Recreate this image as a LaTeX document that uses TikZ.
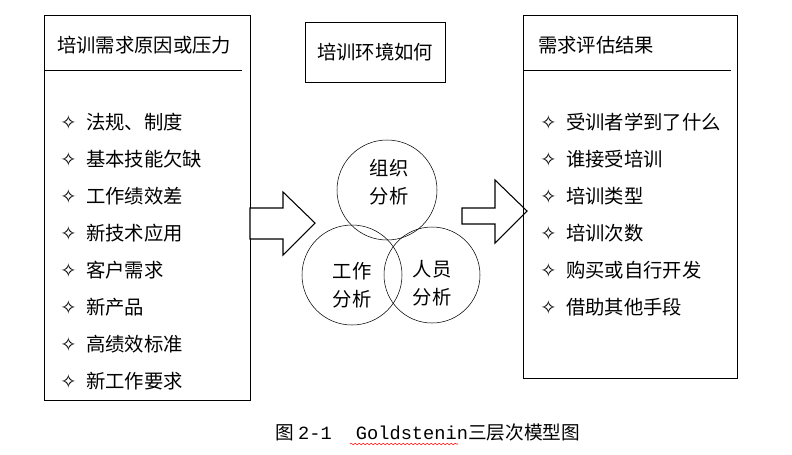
\documentclass[tikz,border=0pt]{standalone}
\usepackage{fontspec}
\setmainfont{Noto Sans CJK SC}
\newfontfamily\symfont{DejaVu Sans}
\newfontfamily\monofont{Liberation Mono}
\usetikzlibrary{positioning,decorations.pathmorphing}

\newcommand{\itemmark}{{\symfont\char"2727}}

\begin{document}
\begin{tikzpicture}[x=0.75pt,y=-0.75pt,
  listtxt/.style={anchor=west, font=\fontsize{14.5}{17}\selectfont, inner sep=0pt},
  headtxt/.style={anchor=west, font=\fontsize{14.5}{17}\selectfont, inner sep=0pt},
  ringtxt/.style={align=center, font=\fontsize{14.5}{17}\selectfont, inner sep=0pt},
  blockarrow/.style={draw=black, fill=white, line width=0.8pt},
]
\useasboundingbox (0,0) rectangle (792,454);

% ─── Left box ───
\draw (44,15) rectangle (250,400);
\draw (44,70) -- (242,70);
\node[headtxt] (lhead) at (57,45) {培训需求原因或压力};
\foreach \t [count=\i] in {法规、制度,基本技能欠缺,工作绩效差,新技术应用,客户需求,新产品,高绩效标准,新工作要求} {
  \node[listtxt] (l\i) at (60,122+37*\i-37) {\itemmark\hspace{0.5em}\t};
}

% ─── Middle ───
\draw (305,22) rectangle (445,82);
\node[headtxt, anchor=center] (env) at (375,52) {培训环境如何};
\draw (387,190) circle (50);
\draw (352,275) circle (50);
\draw (432,275) circle (48);
\node[ringtxt] (org) at (389,182) {组织\\[4pt]分析};
\node[ringtxt] (job) at (352,285) {工作\\[4pt]分析};
\node[ringtxt] (per) at (432,283) {人员\\[4pt]分析};

% Block arrows
\draw[blockarrow] (250,208) -- (283,208) -- (283,192) -- (315,223) -- (283,255) -- (283,239) -- (250,239) -- cycle;
\draw[blockarrow] (462,208) -- (495,208) -- (495,180) -- (527,211) -- (495,243) -- (495,224) -- (462,224) -- cycle;

% ─── Right box ───
\draw (523,15) rectangle (737,378);
\draw (523,70) -- (731,70);
\node[headtxt] (rhead) at (538,45) {需求评估结果};
\foreach \t [count=\i] in {受训者学到了什么,谁接受培训,培训类型,培训次数,购买或自行开发,借助其他手段} {
  \node[listtxt] (r\i) at (540,122+37*\i-37) {\itemmark\hspace{0.5em}\t};
}

% Caption
\node[anchor=west, inner sep=0pt, font=\fontsize{14}{17}\selectfont] (cap) at (275,432)
  {图 {\monofont 2-1}\hspace{1.3em}{\monofont Goldstenin}三层次模型图};
\draw[red, decorate, decoration={snake, amplitude=0.6pt, segment length=3pt}] (350,444) -- (458,444);
\end{tikzpicture}
\end{document}
